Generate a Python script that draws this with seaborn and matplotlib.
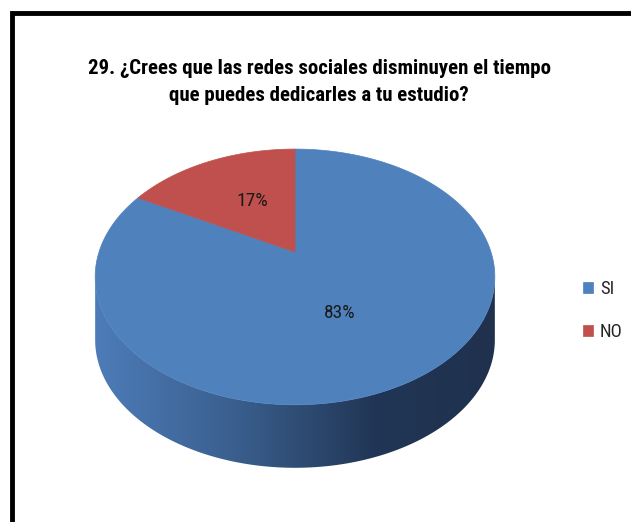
import numpy as np
import matplotlib
matplotlib.use("Agg")
import matplotlib.pyplot as plt
from matplotlib.patches import Polygon
import seaborn as sns

# data
categories = ["SI", "NO"]
values = [83, 17]
labels = ["83%", "17%"]
top_colors = ["#4f81bd", "#c0504d"]

title = "29. ¿Crees que las redes sociales disminuyen el tiempo\nque puedes dedicarles a tu estudio?"

sns.set_style("white")
plt.rcParams['font.family'] = ['Liberation Sans Narrow', 'Roboto Condensed', 'Roboto', 'DejaVu Sans']

# 3d pie geometry (pixel space)
cx, cy = 295, 252
A, B, k = 196, 123, 0.195
depth = 63
label_nudge = [(-5, 8), (0, -6)]


def project(u, v):
    d = 1 - k * v
    return cx + A * u / d, cy + B * v / d


def arc(a0, a1, n=200):
    # clock angles in degrees, clockwise from 12 o'clock
    a = np.radians(np.linspace(a0, a1, n))
    return project(np.sin(a), -np.cos(a))


fig = plt.figure(figsize=(6.31, 5.22), dpi=100)
ax = fig.add_axes([0, 0, 1, 1])
ax.set_xlim(0, 631)
ax.set_ylim(522, 0)
ax.axis("off")

# side wall (front half only)
phi = np.linspace(np.arcsin(k), np.pi - np.arcsin(k), 200)
sx, sy = project(np.cos(phi), np.sin(phi))
side = np.vstack([np.column_stack([sx, sy]),
                  np.column_stack([sx[::-1], sy[::-1] + depth])])
side_patch = Polygon(side, closed=True, facecolor="none", edgecolor="none")
ax.add_patch(side_patch)
grad = np.linspace(0, 1, 256).reshape(1, -1)
cmap = matplotlib.colors.LinearSegmentedColormap.from_list(
    "side", [(0, "#4d7cb8"), (0.35, "#3a5f8e"), (0.7, "#213656"), (1, "#1f314d")])
im = ax.imshow(grad, cmap=cmap, aspect="auto",
               extent=[sx.min(), sx.max(), sy.max() + depth, sy.min()], zorder=1)
im.set_clip_path(side_patch)

# top faces
total = sum(values)
start = 0
handles = []
for cat, val, lab, col, nud in zip(categories, values, labels, top_colors, label_nudge):
    ang = val / total * 360
    x, y = arc(start, start + ang)
    vx, vy = project(0, 0)
    pts = np.vstack([[vx, vy], np.column_stack([x, y])])
    p = Polygon(pts, closed=True, facecolor=col, edgecolor=col, lw=0.5, zorder=2, label=cat)
    ax.add_patch(p)
    handles.append(p)
    mid = np.radians(start + ang / 2)
    r = 0.46
    lx, ly = project(r * np.sin(mid), -r * np.cos(mid))
    ax.text(lx + nud[0], ly + nud[1], lab, ha="center", va="center", fontsize=14,
            color="#1a1a1a", zorder=3)
    start += ang

ax.text(319, 82, title, ha="center", va="center", fontsize=15, fontweight="bold",
        linespacing=1.5, color="black")

ax.legend(handles=handles, loc="center left", bbox_to_anchor=(0.909, 0.405),
          frameon=False, fontsize=13.5, handlelength=0.55, handleheight=0.55,
          handletextpad=0.35, labelspacing=1.35, borderpad=0)

# border of the chart area
ax.plot([12, 12, 631], [522, 13, 13], color="black", lw=3.5, solid_capstyle="butt",
        solid_joinstyle="miter")

fig.savefig("out.png", dpi=100)
